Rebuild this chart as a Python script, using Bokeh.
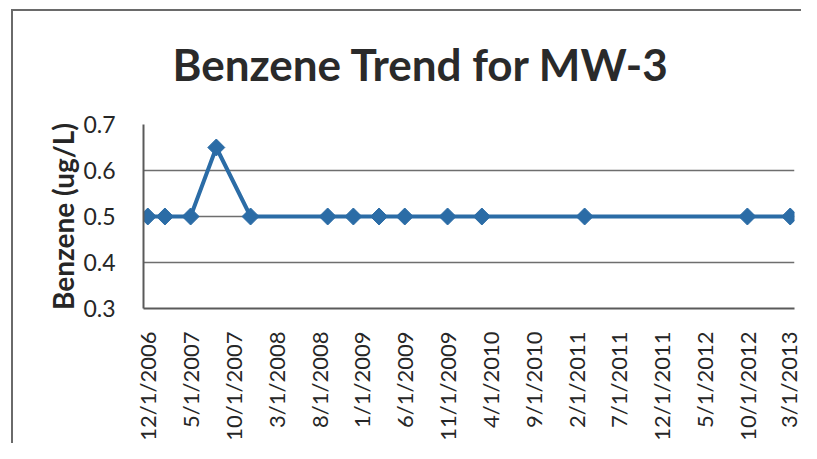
import math
import pandas as pd
from bokeh.plotting import figure
from bokeh.models import FixedTicker, Range1d, Title
from bokeh.embed import file_html
from bokeh.resources import INLINE

# ---- data ----
sample_dates = ["12/1/2006", "2/1/2007", "5/1/2007", "8/1/2007", "12/1/2007",
                "9/1/2008", "12/1/2008", "3/1/2009", "6/1/2009", "11/1/2009",
                "3/1/2010", "3/1/2011", "10/1/2012", "3/1/2013"]
benzene = [0.5, 0.5, 0.5, 0.65, 0.5, 0.5, 0.5, 0.5, 0.5, 0.5, 0.5, 0.5, 0.5, 0.5]

x_tick_labels = ["12/1/2006", "5/1/2007", "10/1/2007", "3/1/2008", "8/1/2008",
                 "1/1/2009", "6/1/2009", "11/1/2009", "4/1/2010", "9/1/2010",
                 "2/1/2011", "7/1/2011", "12/1/2011", "5/1/2012", "10/1/2012",
                 "3/1/2013"]
y_ticks = [0.3, 0.4, 0.5, 0.6, 0.7]


def month_index(s):
    d = pd.to_datetime(s, format="%m/%d/%Y")
    return d.year * 12 + (d.month - 1)


xs = [month_index(s) for s in sample_dates]
tick_pos = [month_index(s) for s in x_tick_labels]

FONT = "Lato"
TXT = "#262626"

p = figure(width=801, height=443, output_backend="svg", toolbar_location=None,
           x_range=Range1d(tick_pos[0] - 0.5, tick_pos[-1] + 0.5),
           y_range=Range1d(y_ticks[0], y_ticks[-1]),
           min_border_left=143, min_border_right=7,
           min_border_top=122, min_border_bottom=131)

# chart-area border (left and top edges) drawn behind a transparent canvas
p.styles = {
    "overflow": "hidden",
    "background": ("linear-gradient(#6a6a6a, #6a6a6a) 11px 9px / 2px 100% no-repeat, "
                   "linear-gradient(#6a6a6a, #6a6a6a) 11px 9px / 100% 2px no-repeat, "
                   "white"),
}
p.border_fill_alpha = 0

p.title = Title(text="Benzene Trend for MW-3", align="left", offset=29,
                text_font=FONT, text_font_size="44px", text_font_style="bold",
                text_color="#2a2a2a", standoff=70)

p.outline_line_color = None
p.background_fill_color = "white"

# y axis
p.yaxis.ticker = FixedTicker(ticks=y_ticks)
p.yaxis.axis_label = "Benzene (ug/L)"
p.yaxis.axis_label_text_font = FONT
p.yaxis.axis_label_text_font_size = "28px"
p.yaxis.axis_label_text_font_style = "bold"
p.yaxis.axis_label_text_color = TXT
p.yaxis.axis_label_standoff = 0
p.yaxis.major_label_text_font = FONT
p.yaxis.major_label_text_font_size = "23px"
p.yaxis.major_label_text_color = TXT
p.yaxis.major_label_standoff = 22
p.yaxis.major_tick_line_color = None
p.yaxis.minor_tick_line_color = None
p.yaxis.axis_line_color = "#5a5a5a"
p.yaxis.axis_line_width = 2

# x axis
p.xaxis.ticker = FixedTicker(ticks=tick_pos)
p.xaxis.major_label_overrides = {t: lab for t, lab in zip(tick_pos, x_tick_labels)}
p.xaxis.major_label_orientation = math.pi / 2
p.xaxis.major_label_text_font = FONT
p.xaxis.major_label_text_font_size = "22px"
p.xaxis.major_label_text_color = TXT
p.xaxis.major_label_standoff = 17
p.xaxis.major_tick_line_color = None
p.xaxis.minor_tick_line_color = None
p.xaxis.axis_line_color = "#5a5a5a"
p.xaxis.axis_line_width = 2

p.xgrid.grid_line_color = None
p.ygrid.ticker = FixedTicker(ticks=y_ticks)
p.ygrid.grid_line_color = "#6e6e6e"
p.ygrid.grid_line_width = 1.5

BLUE = "#2b6ca6"
p.line(xs, benzene, line_color=BLUE, line_width=4)
p.scatter(xs, benzene, marker="square", angle=math.pi / 4, size=12,
          fill_color=BLUE, line_color=BLUE, line_width=1)

open("out.html", "w").write(file_html(p, INLINE))
